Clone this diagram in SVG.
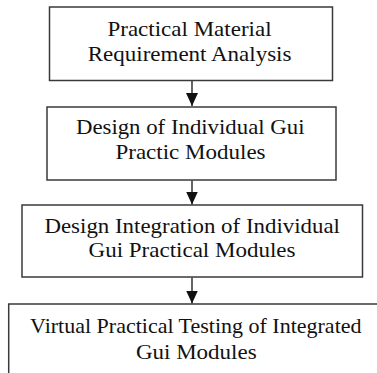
<svg xmlns="http://www.w3.org/2000/svg" width="377" height="373" viewBox="0 0 377 373">
  <defs>
    <style>
      .box { fill: #ffffff; stroke: #3a3a3a; stroke-width: 1.5; }
      .label { font-family: 'Liberation Serif', 'Times New Roman', serif; font-size: 20px; fill: #111111; text-anchor: middle; }
      .link { stroke: #111111; stroke-width: 1.3; fill: none; }
    </style>
    <marker id="arrowhead" markerUnits="userSpaceOnUse" markerWidth="14" markerHeight="12" refX="13" refY="6" orient="auto" viewBox="0 0 14 12">
      <path d="M0,0 L13,6 L0,12 Z" fill="#111111"/>
    </marker>
  </defs>
  <rect width="377" height="373" fill="#ffffff"/>

  <g id="connectors">
    <line class="link" x1="192" y1="80.5" x2="192" y2="106" marker-end="url(#arrowhead)"/>
    <line class="link" x1="192" y1="180.5" x2="192" y2="204.5" marker-end="url(#arrowhead)"/>
    <line class="link" x1="192" y1="277.5" x2="192" y2="303.5" marker-end="url(#arrowhead)"/>
  </g>

  <!-- labels are set slightly wide: scaled horizontally about their centre -->
  <g id="node-requirement-analysis">
    <rect class="box" x="49.5" y="7" width="283" height="73.5"/>
    <text class="label" transform="translate(189.5,35.5) scale(1.15,1)">Practical Material</text>
    <text class="label" transform="translate(189.6,61) scale(1.15,1)">Requirement Analysis</text>
  </g>

  <g id="node-module-design">
    <rect class="box" x="47" y="107" width="289" height="73"/>
    <text class="label" transform="translate(190.2,134.3) scale(1.14,1)">Design of Individual Gui</text>
    <text class="label" transform="translate(190.5,159) scale(1.15,1)">Practic Modules</text>
  </g>

  <g id="node-integration">
    <rect class="box" x="22" y="205" width="340.5" height="72"/>
    <text class="label" transform="translate(192.2,233.3) scale(1.145,1)">Design Integration of Individual</text>
    <text class="label" transform="translate(192,257.3) scale(1.15,1)">Gui Practical Modules</text>
  </g>

  <g id="node-testing">
    <rect class="box" x="8.7" y="304" width="380" height="90"/>
    <text class="label" transform="translate(195.8,333.3) scale(1.1,1)">Virtual Practical Testing of Integrated</text>
    <text class="label" transform="translate(196.3,359) scale(1.15,1)">Gui Modules</text>
  </g>
</svg>
